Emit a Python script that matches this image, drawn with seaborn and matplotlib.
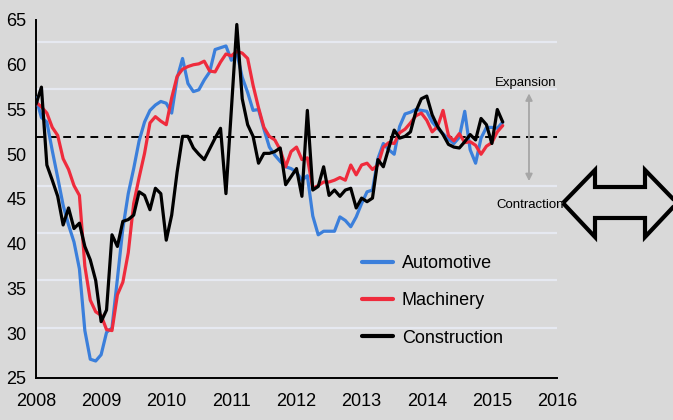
import numpy as np
import pandas as pd
import matplotlib
matplotlib.use("Agg")
import matplotlib.pyplot as plt
from matplotlib.patches import Polygon
import seaborn as sns

# monthly PMI readings, Jan 2008 .. Mar 2015
start_year = 2008
automotive = [56.3, 54.1, 53.6, 50.4, 47.4, 44.3, 42.1, 40.2, 37.2, 30.3, 27.1, 26.9,
              27.6, 30.1, 30.6, 36.1, 41.7, 45.6, 48.4, 51.5, 53.6, 54.9, 55.5, 55.9,
              55.7, 54.6, 58.5, 60.7, 57.9, 57.0, 57.2, 58.3, 59.2, 61.7, 61.9, 62.1,
              60.5, 61.3, 58.6, 56.9, 54.9, 55.0, 52.8, 50.8, 49.9, 49.2, 48.6, 48.4,
              48.0, 47.1, 47.6, 43.1, 41.0, 41.4, 41.4, 41.4, 43.0, 42.6, 41.9, 43.0,
              44.5, 45.8, 46.0, 49.5, 51.2, 50.5, 50.0, 53.1, 54.5, 54.7, 55.0, 54.9,
              54.8, 53.6, 52.9, 52.3, 51.7, 51.2, 51.9, 54.8, 50.5, 49.0, 51.8, 53.0,
              53.0, 52.9, 53.6]
machinery = [55.8, 55.3, 54.6, 53.0, 52.1, 49.5, 48.3, 46.5, 45.4, 37.5, 33.7, 32.4,
             32.0, 30.4, 30.3, 34.3, 35.7, 39.0, 44.5, 47.4, 50.1, 53.5, 54.2, 53.7,
             53.3, 56.3, 58.7, 59.5, 59.8, 60.0, 60.1, 60.4, 59.3, 59.2, 60.3, 61.2,
             61.0, 61.5, 61.3, 60.7, 57.7, 55.2, 53.0, 52.0, 51.6, 50.5, 48.6, 50.3,
             50.8, 49.4, 49.6, 46.2, 46.5, 46.9, 46.9, 47.1, 47.4, 47.1, 48.8, 47.7,
             48.8, 49.0, 48.3, 48.8, 50.8, 51.3, 51.2, 52.4, 52.8, 53.5, 54.3, 54.6,
             53.8, 52.5, 53.1, 54.9, 52.1, 51.5, 52.3, 51.3, 51.4, 51.0, 50.0, 50.9,
             51.3, 52.5, 53.2]
construction = [55.6, 57.5, 48.8, 47.1, 45.3, 42.1, 44.0, 41.7, 42.3, 39.7, 38.2, 35.9,
                31.3, 32.6, 41.0, 39.7, 42.5, 42.7, 43.2, 45.8, 45.4, 43.8, 46.2, 45.6,
                40.4, 43.2, 48.0, 52.0, 52.0, 50.7, 50.0, 49.4, 50.6, 51.8, 52.9, 45.6,
                55.0, 64.5, 56.2, 53.3, 52.0, 49.0, 50.1, 50.1, 50.3, 50.7, 46.6, 47.5,
                48.4, 45.3, 54.9, 46.0, 46.4, 48.6, 45.4, 46.0, 45.3, 46.0, 46.2, 44.0,
                45.1, 44.7, 45.1, 49.4, 48.6, 50.7, 52.7, 51.8, 52.0, 52.5, 54.8, 56.2,
                56.5, 54.4, 53.1, 52.2, 51.1, 50.8, 50.7, 51.4, 52.2, 51.6, 54.0, 53.3,
                51.2, 55.0, 53.6]

series_names = ["Automotive", "Machinery", "Construction"]
series_colors = ["#3b7fdb", "#ef2b3c", "#000000"]
threshold = 51.9
band_levels = [30.6, 35.9, 41.2, 46.5, 57.3, 62.5]
year_ticks = list(range(2008, 2017))
value_ticks = list(range(25, 66, 5))

frames = []
for name, vals in zip(series_names, [automotive, machinery, construction]):
    months = np.arange(len(vals))
    frames.append(pd.DataFrame({"year": start_year + months / 12.0,
                                "value": vals, "series": name}))
df = pd.concat(frames, ignore_index=True)

sns.set_theme(style="white")
plt.rcParams["font.family"] = ["Liberation Sans", "DejaVu Sans"]
plt.rcParams["text.color"] = "black"
bg = "#d9d9d9"

fig = plt.figure(figsize=(6.73, 4.2), dpi=100, facecolor=bg)
ax = fig.add_axes([36 / 673, 42 / 420, (557 - 36) / 673, (378 - 20) / 420])
ax.set_facecolor(bg)

for lvl in band_levels:
    ax.axhline(lvl, color="#e6e9f1", lw=1.6, zorder=1)
ax.axhline(threshold, color="black", lw=1.4, ls=(0, (4, 3)), zorder=2)

sns.lineplot(data=df, x="year", y="value", hue="series", hue_order=series_names,
             palette=dict(zip(series_names, series_colors)), linewidth=2.3, ax=ax, zorder=3)

ax.set_xlim(2008, 2016)
ax.set_ylim(25, 65)
ax.set_xticks(year_ticks)
ax.set_yticks(value_ticks)
ax.set_xlabel("")
ax.set_ylabel("")
ax.tick_params(axis="x", direction="inout", length=6, width=1.2, labelsize=13, pad=8, colors="black")
ax.tick_params(axis="y", direction="out", length=4, width=1.2, labelsize=13, pad=3, colors="black")
for side in ["top", "right"]:
    ax.spines[side].set_visible(False)
for side in ["left", "bottom"]:
    ax.spines[side].set_color("black")
    ax.spines[side].set_linewidth(1.4)

handles, labels = ax.get_legend_handles_labels()
leg = ax.legend(handles, labels, loc="upper left", bbox_to_anchor=(355 / 673, 1 - 248 / 420),
                bbox_transform=fig.transFigure, frameon=False, fontsize=13,
                handlelength=1.7, handletextpad=0.5, labelspacing=1.12, borderaxespad=0)
for h in leg.legend_handles:
    h.set_linewidth(3)

# expansion / contraction marker
ax.annotate("", xy=(2015.57, 56.8), xytext=(2015.57, 47.0),
            arrowprops=dict(arrowstyle="<|-|>", color="#a6a6a6", lw=1.3,
                            mutation_scale=10, shrinkA=0, shrinkB=0))
ax.text(2015.52, 58.0, "Expansion", ha="center", va="center", fontsize=9.5)
ax.text(2015.58, 44.3, "Contraction", ha="center", va="center", fontsize=9.5)

# outlined double arrow at right edge
pts = [(563, 203), (595, 170), (595, 187), (645, 187), (645, 170), (677, 203),
       (645, 237), (645, 218), (595, 218), (595, 237)]
arrow = Polygon([(x / 673, 1 - y / 420) for x, y in pts], closed=True, fill=False,
                edgecolor="black", lw=3, transform=fig.transFigure, clip_on=False,
                joinstyle="miter")
fig.add_artist(arrow)

fig.savefig("out.png", dpi=100, facecolor=bg)
